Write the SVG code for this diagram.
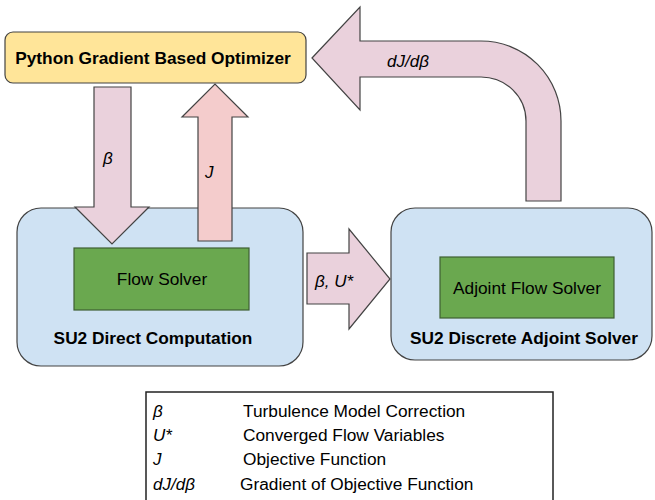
<svg xmlns="http://www.w3.org/2000/svg" width="655" height="500" viewBox="0 0 655 500">
<defs>
<style>
.t{font-family:"Liberation Sans",Arial,sans-serif;fill:#000}
.b{font-weight:bold;font-size:17.3px}
.i{font-style:italic;font-size:17px}
.n{font-size:17.3px}
.l{font-size:17.3px}
.box{stroke:#434343;stroke-width:1.2}
.arr{stroke:#434343;stroke-width:1.2;stroke-linejoin:miter}
</style>
</defs>
<rect width="655" height="500" fill="#fff"/>
<g id="direct">
<rect class="box" x="17" y="208" width="286" height="158" rx="24" fill="#cfe2f3"/>
<text class="t b" x="153" y="344" text-anchor="middle">SU2 Direct Computation</text>
</g>
<g id="adjoint">
<rect class="box" x="391" y="208" width="261" height="152" rx="24" fill="#cfe2f3"/>
<text class="t b" x="524" y="344" text-anchor="middle">SU2 Discrete Adjoint Solver</text>
</g>
<g id="optimizer">
<rect class="box" x="5" y="32" width="301" height="51" rx="8" fill="#ffe599"/>
<text class="t b" x="153" y="64" text-anchor="middle">Python Gradient Based Optimizer</text>
</g>
<g id="connectors">
<path class="arr" fill="#ead1dc" d="M94,87 L131,87 L131,207 L149,207 L112,244 L75,207 L94,207 Z"/>
<text class="t i" x="103" y="164">β</text>
<path class="arr" fill="#f4cccc" d="M198,241 L198,117 L182,117 L215,84 L248,117 L232,117 L232,241 Z"/>
<text class="t i" x="205" y="178">J</text>
<path class="arr" fill="#ead1dc" d="M307,253 L349,253 L349,229 L390,279 L349,329 L349,304 L307,304 Z"/>
<text class="t i" x="315" y="287">β, U*</text>
<path class="arr" fill="#ead1dc" d="M312,58 L360,7 L360,41 L481,41 A80,80 0 0 1 561,121 L561,201 L526,201 L526,121 A45,44 0 0 0 481,77 L360,77 L360,110 Z"/>
<text class="t i" x="387" y="67">dJ/dβ</text>
</g>
<g id="flowsolver">
<rect x="74" y="248" width="175" height="62" fill="#6aa84f" stroke="#3f5f33" stroke-width="1.2"/>
<text class="t n" x="162" y="285" text-anchor="middle">Flow Solver</text>
</g>
<g id="adjointsolver">
<rect x="440" y="257" width="174" height="61" fill="#6aa84f" stroke="#3f5f33" stroke-width="1.2"/>
<text class="t n" x="527" y="294" text-anchor="middle">Adjoint Flow Solver</text>
</g>
<g id="legend">
<rect x="146" y="392" width="407" height="130" fill="#fff" stroke="#222" stroke-width="1.5"/>
<text class="t i" x="153" y="417">β</text>
<text class="t i" x="153" y="441">U*</text>
<text class="t i" x="153" y="465">J</text>
<text class="t i" x="153" y="490">dJ/dβ</text>
<text class="t l" x="243" y="417">Turbulence Model Correction</text>
<text class="t l" x="243" y="441">Converged Flow Variables</text>
<text class="t l" x="243" y="465">Objective Function</text>
<text class="t l" x="240" y="490">Gradient of Objective Function</text>
</g>
</svg>
